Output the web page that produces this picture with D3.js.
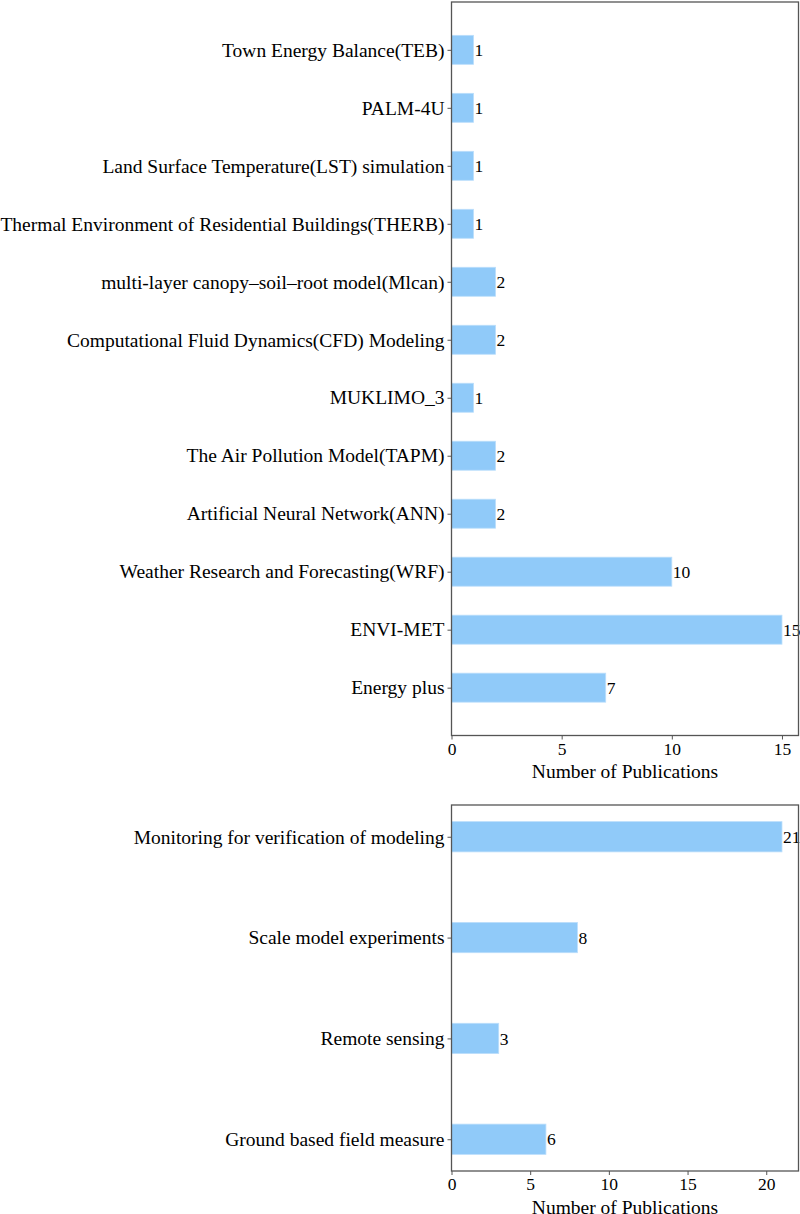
<!DOCTYPE html>
<html>
<head>
<meta charset="utf-8">
<script src="https://cdn.jsdelivr.net/npm/d3@7"></script>
<style>
  body { margin: 0; background: #fff; }
  text { font-family: "Liberation Serif", "Times New Roman", serif; fill: #000; }
</style>
</head>
<body>
<div id="chart"></div>
<script>
// top panel: simulation / modelling tools (listed bottom to top)
var modelNames = ["Energy plus", "ENVI-MET", "Weather Research and Forecasting(WRF)",
  "Artificial Neural Network(ANN)", "The Air Pollution Model(TAPM)", "MUKLIMO_3",
  "Computational Fluid Dynamics(CFD) Modeling", "multi-layer canopy\u2013soil\u2013root model(Mlcan)",
  "Thermal Environment of Residential Buildings(THERB)", "Land Surface Temperature(LST) simulation",
  "PALM-4U", "Town Energy Balance(TEB)"];
var modelCounts = [7, 15, 10, 2, 2, 1, 2, 2, 1, 1, 1, 1];
var modelTicks = [0, 5, 10, 15];

// bottom panel: measurement methods (bottom to top)
var measureNames = ["Ground based field measure", "Remote sensing",
  "Scale model experiments", "Monitoring for verification of modeling"];
var measureCounts = [6, 3, 8, 21];
var measureTicks = [0, 5, 10, 15, 20];

var svgWidth = 800;
var svgHeight = 1214;
var barColor = "#90caf9";
var frameColor = "#555";
var labelSize = 19.5;
var numSize = 17.5;

var svg = d3.select("#chart")
  .append("svg")
  .attr("width", svgWidth)
  .attr("height", svgHeight);

// draws one horizontal bar panel, matplotlib style
function drawPanel(names, counts, ticks, box, barHeight) {
  var n = names.length;
  var pad = barHeight / 2 + (n - 1 + barHeight) * 0.05;

  var x = d3.scaleLinear()
    .domain([0, d3.max(counts) * 1.05])
    .range([box.left, box.right]);

  var y = d3.scaleLinear()
    .domain([-pad, n - 1 + pad])
    .range([box.bottom, box.top]);

  var step = Math.abs(y(1) - y(0));

  var g = svg.append("g");

  // bars
  g.selectAll("rect.bar")
    .data(counts)
    .enter()
    .append("rect")
    .attr("class", "bar")
    .attr("x", x(0))
    .attr("y", (d, i) => y(i) - step * barHeight / 2)
    .attr("width", d => x(d) - x(0))
    .attr("height", step * barHeight)
    .attr("fill", barColor)
    .attr("stroke", "#bbdefb")
    .attr("stroke-width", 0.8);

  // value labels
  g.selectAll("text.val")
    .data(counts)
    .enter()
    .append("text")
    .attr("class", "val")
    .attr("x", d => x(d) + 1)
    .attr("y", (d, i) => y(i))
    .attr("dy", "0.35em")
    .attr("font-size", numSize)
    .text(d => d);

  // y axis
  var yAxis = d3.axisLeft(y)
    .tickValues(d3.range(n))
    .tickFormat(i => names[i])
    .tickSize(4)
    .tickPadding(3);

  var yg = g.append("g")
    .attr("transform", `translate(${box.left},0)`)
    .call(yAxis);
  yg.select(".domain").remove();
  yg.selectAll("line").attr("stroke", frameColor);
  yg.selectAll("text").attr("font-size", labelSize).attr("font-family", "Liberation Serif");

  // x axis
  var xAxis = d3.axisBottom(x)
    .tickValues(ticks)
    .tickSize(4)
    .tickPadding(3);

  var xg = g.append("g")
    .attr("transform", `translate(0,${box.bottom})`)
    .call(xAxis);
  xg.select(".domain").remove();
  xg.selectAll("line").attr("stroke", frameColor);
  xg.selectAll("text").attr("font-size", numSize).attr("font-family", "Liberation Serif");

  // frame
  g.append("rect")
    .attr("x", box.left)
    .attr("y", box.top)
    .attr("width", box.right - box.left)
    .attr("height", box.bottom - box.top)
    .attr("fill", "none")
    .attr("stroke", frameColor)
    .attr("stroke-width", 1.3);

  // axis title
  g.append("text")
    .attr("x", (box.left + box.right) / 2)
    .attr("y", box.bottom + 42.5)
    .attr("text-anchor", "middle")
    .attr("font-size", labelSize)
    .text("Number of Publications");
}

drawPanel(modelNames, modelCounts, modelTicks,
  {left: 451.5, right: 798.5, top: 2, bottom: 735.5}, 0.5);

drawPanel(measureNames, measureCounts, measureTicks,
  {left: 451.5, right: 798.5, top: 805, bottom: 1171}, 0.3);
</script>
</body>
</html>
